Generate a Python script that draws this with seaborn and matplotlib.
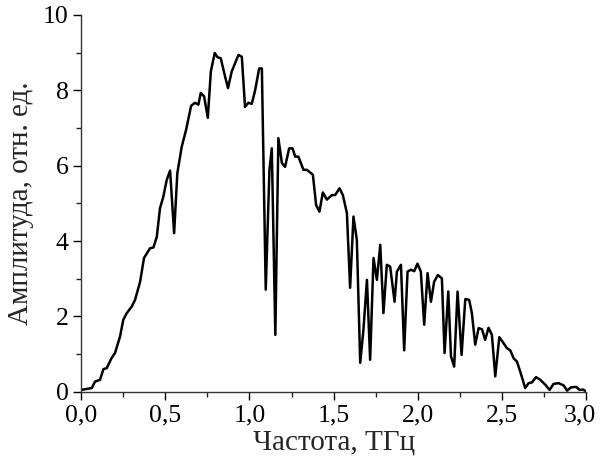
import numpy as np
import seaborn as sns
import pandas as pd
import matplotlib.pyplot as plt
import matplotlib.transforms as mtransforms
from matplotlib.ticker import MultipleLocator

freq = [0.0, 0.064, 0.083, 0.113, 0.133, 0.153, 0.182, 0.202, 0.232, 0.251,
        0.272, 0.301, 0.321, 0.351, 0.374, 0.41, 0.43, 0.45, 0.469, 0.489,
        0.509, 0.529, 0.553, 0.572, 0.598, 0.624, 0.654, 0.677, 0.697, 0.711,
        0.731, 0.753, 0.771, 0.794, 0.81, 0.83, 0.856, 0.873, 0.895, 0.935,
        0.955, 0.974, 0.994, 1.014, 1.034, 1.058, 1.074, 1.097, 1.119, 1.133,
        1.154, 1.172, 1.193, 1.212, 1.236, 1.256, 1.272, 1.291, 1.321, 1.341,
        1.377, 1.396, 1.416, 1.436, 1.46, 1.49, 1.509, 1.535, 1.555, 1.579,
        1.598, 1.618, 1.638, 1.658, 1.677, 1.698, 1.717, 1.737, 1.757, 1.777,
        1.796, 1.816, 1.836, 1.862, 1.876, 1.9, 1.919, 1.939, 1.959, 1.979,
        1.998, 2.018, 2.038, 2.058, 2.078, 2.097, 2.119, 2.143, 2.159, 2.181,
        2.197, 2.216, 2.236, 2.26, 2.282, 2.305, 2.321, 2.341, 2.361, 2.381,
        2.4, 2.42, 2.44, 2.46, 2.484, 2.503, 2.529, 2.549, 2.569, 2.589,
        2.608, 2.638, 2.658, 2.678, 2.702, 2.727, 2.757, 2.783, 2.806, 2.836,
        2.866, 2.886, 2.91, 2.941, 2.961, 2.981, 3.0]
amp = [0.05, 0.1, 0.27, 0.32, 0.6, 0.63, 0.9, 1.03, 1.47, 1.91,
       2.09, 2.26, 2.44, 2.92, 3.55, 3.81, 3.83, 4.11, 4.87, 5.18,
       5.62, 5.87, 4.21, 5.8, 6.5, 6.95, 7.59, 7.67, 7.62, 7.93,
       7.84, 7.27, 8.5, 8.99, 8.88, 8.85, 8.36, 8.06, 8.5, 8.94,
       8.89, 7.56, 7.67, 7.64, 8.0, 8.58, 8.58, 2.71, 5.89, 6.46,
       1.51, 6.73, 6.07, 5.97, 6.46, 6.46, 6.24, 6.24, 5.89, 5.89,
       5.76, 4.96, 4.78, 5.29, 5.1, 5.22, 5.22, 5.4, 5.22, 4.74,
       2.76, 4.65, 4.03, 0.77, 1.64, 2.97, 0.85, 3.55, 2.97, 3.9,
       2.09, 3.37, 3.32, 2.39, 3.19, 3.37, 1.1, 3.19, 3.24, 3.2,
       3.4, 3.19, 1.78, 3.15, 2.39, 2.92, 3.1, 3.01, 1.03, 2.66,
       0.94, 0.67, 2.66, 0.98, 2.46, 2.44, 2.09, 1.25, 1.69, 1.66,
       1.38, 1.7, 1.51, 0.41, 1.45, 1.33, 1.16, 1.1, 0.89, 0.8,
       0.54, 0.1, 0.23, 0.25, 0.39, 0.32, 0.19, 0.05, 0.21, 0.23,
       0.17, 0.03, 0.12, 0.13, 0.05, 0.06, 0.01]

x_ticks = [0.0, 0.5, 1.0, 1.5, 2.0, 2.5, 3.0]
x_tick_labels = ['0,0', '0,5', '1,0', '1,5', '2,0', '2,5', '3,0']
y_ticks = [0, 2, 4, 6, 8, 10]

df = pd.DataFrame({'freq': freq, 'amp': amp})

sns.set_style("ticks")
plt.rcParams['font.family'] = ['Liberation Serif', 'DejaVu Serif']

fig = plt.figure(figsize=(6, 4.67), dpi=100)
ax = fig.add_axes([0.135, 0.161, 0.842, 0.807])
sns.lineplot(data=df, x='freq', y='amp', color='black', linewidth=1.8, ax=ax)

ax.set_xlim(0, 3.0)
ax.set_ylim(0, 10)
ax.set_xticks(x_ticks, x_tick_labels)
ax.set_yticks(y_ticks, [str(v) for v in y_ticks])
ax.xaxis.set_minor_locator(MultipleLocator(0.25))
ax.yaxis.set_minor_locator(MultipleLocator(1))
ax.tick_params(which='major', direction='out', length=6, width=1, labelsize=18.5,
               colors='black', pad=3)
ax.tick_params(which='minor', direction='out', length=3.5, width=1)
for s in ['top', 'right']:
    ax.spines[s].set_visible(False)
for s in ['left', 'bottom']:
    ax.spines[s].set_color('#333333')
    ax.spines[s].set_linewidth(1)

ax.set_xlabel("Частота, ТГц", fontsize=21, labelpad=2)
ax.set_ylabel("Амплитуда, отн. ед.", fontsize=21, labelpad=6)

# keep the last x tick label inside the figure
last_tick = ax.xaxis.get_major_ticks()[len(x_ticks) - 1]
last_tick.label1.set_horizontalalignment('right')
last_tick.label1.set_transform(ax.get_xaxis_transform() +
                               mtransforms.ScaledTranslation(7 / 72, -9 / 72, fig.dpi_scale_trans))

fig.savefig("out.png", dpi=100)
